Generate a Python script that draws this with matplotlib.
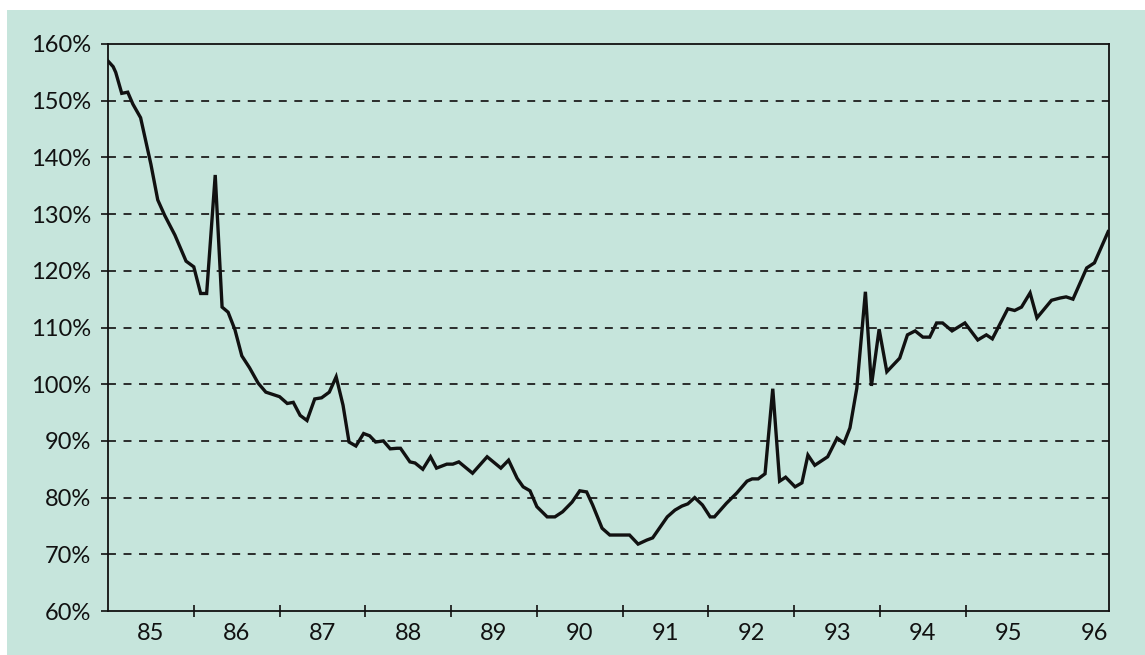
import matplotlib.pyplot as plt
from matplotlib.patches import Rectangle

# ratio (decimal year, percent)
years = [1985.00, 1985.06, 1985.09, 1985.16, 1985.23, 1985.29, 1985.38, 1985.50,
         1985.58, 1985.66, 1985.78, 1985.91, 1986.00, 1986.08, 1986.15, 1986.25,
         1986.33, 1986.40, 1986.48, 1986.56, 1986.65, 1986.75, 1986.84, 1987.00,
         1987.09, 1987.16, 1987.24, 1987.32, 1987.41, 1987.49, 1987.58, 1987.66,
         1987.74, 1987.81, 1987.89, 1987.98, 1988.05, 1988.12, 1988.21, 1988.29,
         1988.37, 1988.41, 1988.52, 1988.58, 1988.67, 1988.76, 1988.83, 1988.95,
         1989.02, 1989.09, 1989.25, 1989.42, 1989.58, 1989.67, 1989.77, 1989.84,
         1989.92, 1990.00, 1990.12, 1990.21, 1990.30, 1990.41, 1990.50, 1990.58,
         1990.65, 1990.76, 1990.85, 1991.08, 1991.18, 1991.28, 1991.35, 1991.52,
         1991.61, 1991.69, 1991.76, 1991.84, 1991.93, 1992.02, 1992.07, 1992.21,
         1992.33, 1992.45, 1992.51, 1992.58, 1992.66, 1992.75, 1992.83, 1992.90,
         1993.01, 1993.09, 1993.16, 1993.24, 1993.39, 1993.50, 1993.58, 1993.65,
         1993.73, 1993.83, 1993.90, 1993.99, 1994.08, 1994.23, 1994.32, 1994.41,
         1994.50, 1994.58, 1994.66, 1994.73, 1994.84, 1994.99, 1995.14, 1995.24,
         1995.31, 1995.49, 1995.57, 1995.65, 1995.75, 1995.83, 1996.00, 1996.10,
         1996.17, 1996.25, 1996.41, 1996.50, 1996.66]
values = [157.0, 156.0, 155.0, 151.3, 151.5, 149.4, 147.0, 138.8,
          132.5, 129.8, 126.3, 121.7, 120.7, 116.0, 116.0, 136.9,
          113.6, 112.7, 109.6, 105.0, 102.9, 100.2, 98.6, 97.8,
          96.6, 96.8, 94.5, 93.6, 97.4, 97.6, 98.6, 101.3,
          96.3, 89.8, 89.1, 91.3, 90.9, 89.8, 90.0, 88.6,
          88.7, 88.7, 86.3, 86.1, 85.0, 87.2, 85.2, 85.9,
          85.9, 86.3, 84.3, 87.2, 85.2, 86.6, 83.4, 81.9,
          81.2, 78.4, 76.6, 76.6, 77.5, 79.2, 81.2, 81.0,
          78.7, 74.6, 73.4, 73.4, 71.8, 72.5, 72.9, 76.6,
          77.8, 78.5, 78.9, 80.0, 78.7, 76.6, 76.6, 79.0,
          80.8, 82.9, 83.3, 83.3, 84.2, 99.2, 82.9, 83.6,
          81.9, 82.6, 87.5, 85.7, 87.2, 90.5, 89.6, 92.3,
          99.3, 116.3, 99.7, 109.7, 102.2, 104.6, 108.7, 109.4,
          108.3, 108.3, 110.8, 110.8, 109.4, 110.8, 107.8, 108.7,
          108.0, 113.3, 113.0, 113.6, 116.1, 111.7, 114.8, 115.2,
          115.4, 115.0, 120.5, 121.4, 126.9]

year_labels = ['85', '86', '87', '88', '89', '90', '91', '92', '93', '94', '95', '96']
first_year = 1985

plt.rcParams['font.family'] = ['Lato', 'DejaVu Sans']

fig = plt.figure(figsize=(11.45, 6.55), dpi=100, facecolor='white')
bg = '#c6e5dc'
fig.patches.append(Rectangle((7 / 1145, 0), 1, 1 - 10 / 655, transform=fig.transFigure,
                             facecolor=bg, edgecolor='none', zorder=-1))

ax = fig.add_axes([108 / 1145, 44 / 655, 1001 / 1145, 567 / 655])
ax.set_facecolor(bg)

ax.plot(years, values, color='#111111', lw=2.4, solid_joinstyle='miter', zorder=3)

ax.set_xlim(1985, 1996.67)
ax.set_ylim(60, 160)

yt = list(range(60, 161, 10))
ax.set_yticks(yt)
ax.set_yticklabels([f'{v}%' for v in yt])
for v in yt[1:-1]:
    ax.axhline(v, color='#1e1e1e', lw=1.3, dashes=(4.4, 4.2), zorder=1)

bounds = [first_year + i for i in range(1, len(year_labels) - 1)]
ax.set_xticks(bounds)
ax.set_xticklabels([])
ax.set_xticks([first_year + i + 0.5 for i in range(len(year_labels))], minor=True)
ax.set_xticklabels(year_labels, minor=True)

ax.tick_params(axis='x', which='major', direction='inout', length=9, width=1.2, color='#111111')
ax.tick_params(axis='x', which='minor', length=0, pad=9, labelsize=17, labelcolor='#111111')
ax.tick_params(axis='y', direction='out', length=5, width=1.2, pad=7, labelsize=17,
               color='#111111', labelcolor='#111111')

for s in ax.spines.values():
    s.set_color('#111111')
    s.set_linewidth(1.3)

fig.savefig('out.png', dpi=100, facecolor=fig.get_facecolor())
